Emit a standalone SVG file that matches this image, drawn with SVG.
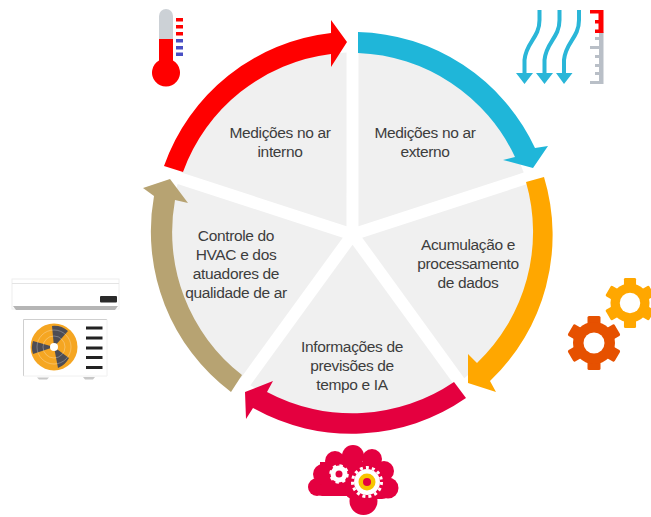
<svg xmlns="http://www.w3.org/2000/svg" width="651" height="517" viewBox="0 0 651 517">
<style>
.w{fill:#f0f0f0}
.t{font-family:"Liberation Sans",Arial,sans-serif;font-size:15.5px;fill:#3d3d3d;text-anchor:middle;letter-spacing:-.35px}
.air{fill:none;stroke:#29b6d8;stroke-width:4}
.airh{fill:#29b6d8}
.rg{fill:#b9bfc7}
.rr{fill:#f00}
.v{fill:#222}
</style>
<defs>
<path id="wedge" d="M6-8.3V-181.9A182 182 0 0 1 171.2-61.9Z"/>
<g id="gearT"><rect x="-6.500" y="-27" width="13" height="54" rx="1.500"/><rect x="-6.500" y="-27" width="13" height="54" rx="1.500" transform="rotate(60)"/><rect x="-6.500" y="-27" width="13" height="54" rx="1.500" transform="rotate(120)"/><circle r="21"/></g>
<filter id="soft" x="-10%" y="-10%" width="120%" height="120%"><feGaussianBlur stdDeviation=".5"/></filter>
</defs>
<rect width="651" height="517" fill="#fff"/>

<g id="node-interno">
<use href="#wedge" class="w" transform="translate(352.500 234.500) rotate(-72)"/>
<text class="t" x="280" y="138">Medições no ar</text>
<text class="t" x="280" y="157">interno</text>
<g id="icon-thermometer" filter="url(#soft)">
<path d="M159 39V16a7 7 0 0 1 14 0V39Z" fill="#ccd1d6"/>
<path d="M159 39H173V60.500A14 14 0 1 1 159 60.500Z" fill="#f00"/>
<g class="rr"><rect x="176" y="18" width="7" height="3.500"/><rect x="176" y="25" width="7" height="3.500"/><rect x="176" y="32" width="7" height="3.500"/></g>
<g fill="#4a4fc4"><rect x="176" y="39" width="7" height="3.500"/><rect x="176" y="46" width="7" height="3.500"/><rect x="176" y="52.500" width="7" height="3.500"/></g>
</g>
</g>

<g id="node-externo">
<use href="#wedge" class="w" transform="translate(352.500 234.500)"/>
<text class="t" x="425" y="138">Medições no ar</text>
<text class="t" x="425" y="157">externo</text>
<g id="icon-air" filter="url(#soft)">
<path class="air" d="M539.500 10V20C539.500 38 526 42 524.500 60V76"/>
<path class="air" d="M559.500 10V20C559.500 38 546 42 544.500 60V76"/>
<path class="air" d="M579 10V20C579 38 565.500 42 564 60V76"/>
<path class="airh" d="M516 73H533L524.500 84ZM536 73H553L544.500 84ZM556 73H572.500L564 84Z"/>
<rect class="rg" x="599" y="32" width="4.500" height="52"/>
<rect class="rr" x="598.500" y="10" width="5" height="23"/>
<g class="rr"><rect x="590" y="10" width="10" height="3.500"/><rect x="595" y="20" width="5" height="3.500"/><rect x="595" y="29.500" width="5" height="3.500"/></g>
<g class="rg"><rect x="595" y="37" width="5" height="3"/><rect x="590" y="46" width="10" height="3"/><rect x="595" y="55" width="5" height="3"/><rect x="595" y="64" width="5" height="3"/><rect x="595" y="72" width="5" height="3"/><rect x="590" y="81" width="10" height="3"/></g>
</g>
</g>

<g id="node-acumulacao">
<use href="#wedge" class="w" transform="translate(352.500 234.500) rotate(72)"/>
<text class="t" x="468" y="250">Acumulação e</text>
<text class="t" x="468" y="269">processamento</text>
<text class="t" x="468" y="288">de dados</text>
<g id="icon-gears" filter="url(#soft)">
<g fill="#ffa700" transform="translate(630 303) scale(.93)"><use href="#gearT"/><circle r="11" fill="#fff"/></g>
<g fill="#e65100" transform="translate(594 343)"><use href="#gearT"/><circle r="10.500" fill="#fff"/></g>
</g>
</g>

<g id="node-previsoes">
<use href="#wedge" class="w" transform="translate(352.500 234.500) rotate(144)"/>
<text class="t" x="352" y="352">Informações de</text>
<text class="t" x="352" y="371">previsões de</text>
<text class="t" x="352" y="390">tempo e IA</text>
<g id="icon-cloud" filter="url(#soft)">
<g fill="#e4003f"><circle cx="353" cy="456" r="11"/><circle cx="335" cy="461" r="10"/><circle cx="372" cy="459" r="10"/><circle cx="384" cy="471" r="10"/><circle cx="323" cy="474" r="10"/><circle cx="317" cy="487" r="9"/><circle cx="388" cy="488" r="10.500"/><circle cx="363.500" cy="501" r="14"/><rect x="320" y="462" width="68" height="31"/><rect x="316" y="484" width="40" height="12" rx="6"/><rect x="345" y="480" width="45" height="19" rx="8"/></g>
<circle cx="339" cy="474" r="6" fill="none" stroke="#fff" stroke-width="5"/>
<circle cx="339" cy="474" r="8.500" fill="none" stroke="#fff" stroke-width="2.500" stroke-dasharray="3.300 3.400"/>
<circle cx="367" cy="482" r="13" fill="#fff"/>
<circle cx="367" cy="482" r="14.500" fill="none" stroke="#fff" stroke-width="3" stroke-dasharray="3 3.070"/>
<circle cx="367" cy="482" r="8.500" fill="#f8c400"/>
<circle cx="367" cy="482" r="4" fill="#e4003f"/>
</g>
</g>

<g id="node-controle">
<use href="#wedge" class="w" transform="translate(352.500 234.500) rotate(216)"/>
<text class="t" x="236" y="241">Controle do</text>
<text class="t" x="236" y="260">HVAC e dos</text>
<text class="t" x="236" y="279">atuadores de</text>
<text class="t" x="236" y="298">qualidade de ar</text>
<g id="icon-ac" filter="url(#soft)">
<rect x="12" y="279" width="107" height="30" fill="#fff" stroke="#eee"/>
<path d="M12 283.500H119" stroke="#e4e4e4"/>
<path d="M13 306H118L115 310H16Z" fill="#b5b5b5"/>
<rect x="100" y="296" width="17" height="6.500" rx="1" fill="#2a2a2a"/>
<path d="M23.500 376V319.500H107" fill="none" stroke="#cfcfcf"/>
<path d="M107 319.500V376H23.500" fill="none" stroke="#f0f0f0"/>
<circle cx="54" cy="347" r="23.500" fill="#f5a623"/>
<path d="M54 347L52 326A21 21 0 0 1 68 331ZM54 347L69 358A21 21 0 0 1 58 368ZM54 347L33 354A21 21 0 0 1 33 341Z" fill="#4d4d55"/>
<g fill="none" stroke="#fff" stroke-opacity=".35" stroke-width=".8"><circle cx="54" cy="347" r="11"/><circle cx="54" cy="347" r="17"/></g>
<circle cx="54" cy="347" r="4" fill="#fff"/>
<g class="v"><rect x="86" y="326.500" width="16.500" height="3"/><rect x="86" y="336.500" width="16.500" height="3"/><rect x="86" y="346.500" width="16.500" height="3"/><rect x="86" y="356" width="16.500" height="3"/><rect x="86" y="366" width="16.500" height="3"/></g>
<path d="M37 377.500H49L47 379.500H39ZM83 377H95L93 379.500H85Z" fill="#c8c8c8"/>
</g>
</g>

<g id="connectors">
<path fill="#f00" d="M164 166A201 201 0 0 1 331 33V20L347 42L331 67V54A181 181 0 0 0 183 172Z"/>
<path fill="#1fb6d9" d="M358 32A201 201 0 0 1 535 148L548 146L533 168L503 160L515 157A181 181 0 0 0 358 53Z"/>
<path fill="#ffa700" d="M544 177A201 201 0 0 1 490 381L496 392L468 383L468 354L477 363A181 181 0 0 0 526 182Z"/>
<path fill="#e4003f" d="M466 398A201 201 0 0 1 253 408L246 419L245 392L273 381L267 392A181 181 0 0 0 454 382Z"/>
<path fill="#b7a372" d="M231 392A201 201 0 0 1 154 196L143 188L170 179L188 203L175 200A181 181 0 0 0 242 375Z"/>
</g>
</svg>
